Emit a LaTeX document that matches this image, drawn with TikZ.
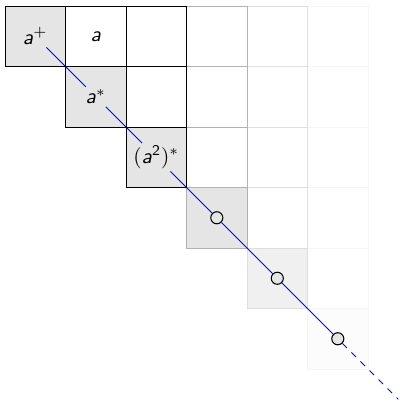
\documentclass[tikz,border=0pt]{standalone}
\usepackage{amsmath}
\usepackage{tikz}

\newcommand{\sfa}{\textsf{\textit{a}}}

\tikzset{
	lbl/.style={inner sep=1pt},
	dot/.style={circle, draw=black, line width=0.5pt, fill=gray!20, minimum size=0.2cm, inner sep=0pt}
}

\begin{document}
\begin{tikzpicture}[y=-1cm]
	\useasboundingbox (-0.083,-0.099) rectangle (6.512,6.545);
	% shaded diagonal
	\foreach \k/\f in {0/gray!20, 1/gray!20, 2/gray!20, 3/gray!20, 4/gray!12, 5/gray!2}
		\fill[\f] (\k,\k) rectangle ++(1,1);
	% triangular grid, faint columns first
	\foreach \j/\c in {5/black!4, 4/black!13, 3/black!30, 2/black, 1/black, 0/black}
		\foreach \i in {0,...,\j}
			\draw[\c] (\j,\i) rectangle ++(1,1);
	\node[lbl] (ap) at (0.5,0.5) {$\sfa^{+}$};
	\node[lbl] (a) at (1.5,0.5) {$\sfa$};
	\node[lbl] (as) at (1.5,1.5) {$\sfa^{*}$};
	\node[lbl] (a2s) at (2.5,2.5) {$(\sfa^{\textsf{2}})^{*}$};
	\node[dot] (d3) at (3.5,3.5) {};
	\node[dot] (d4) at (4.5,4.5) {};
	\node[dot] (d5) at (5.5,5.5) {};
	\coordinate (tail) at (6.5,6.5);
	\draw[blue] (ap) -- (as) -- (a2s) -- (d3) -- (d4) -- (d5);
	\draw[blue, dashed] (d5) -- (tail);
\end{tikzpicture}
\end{document}
